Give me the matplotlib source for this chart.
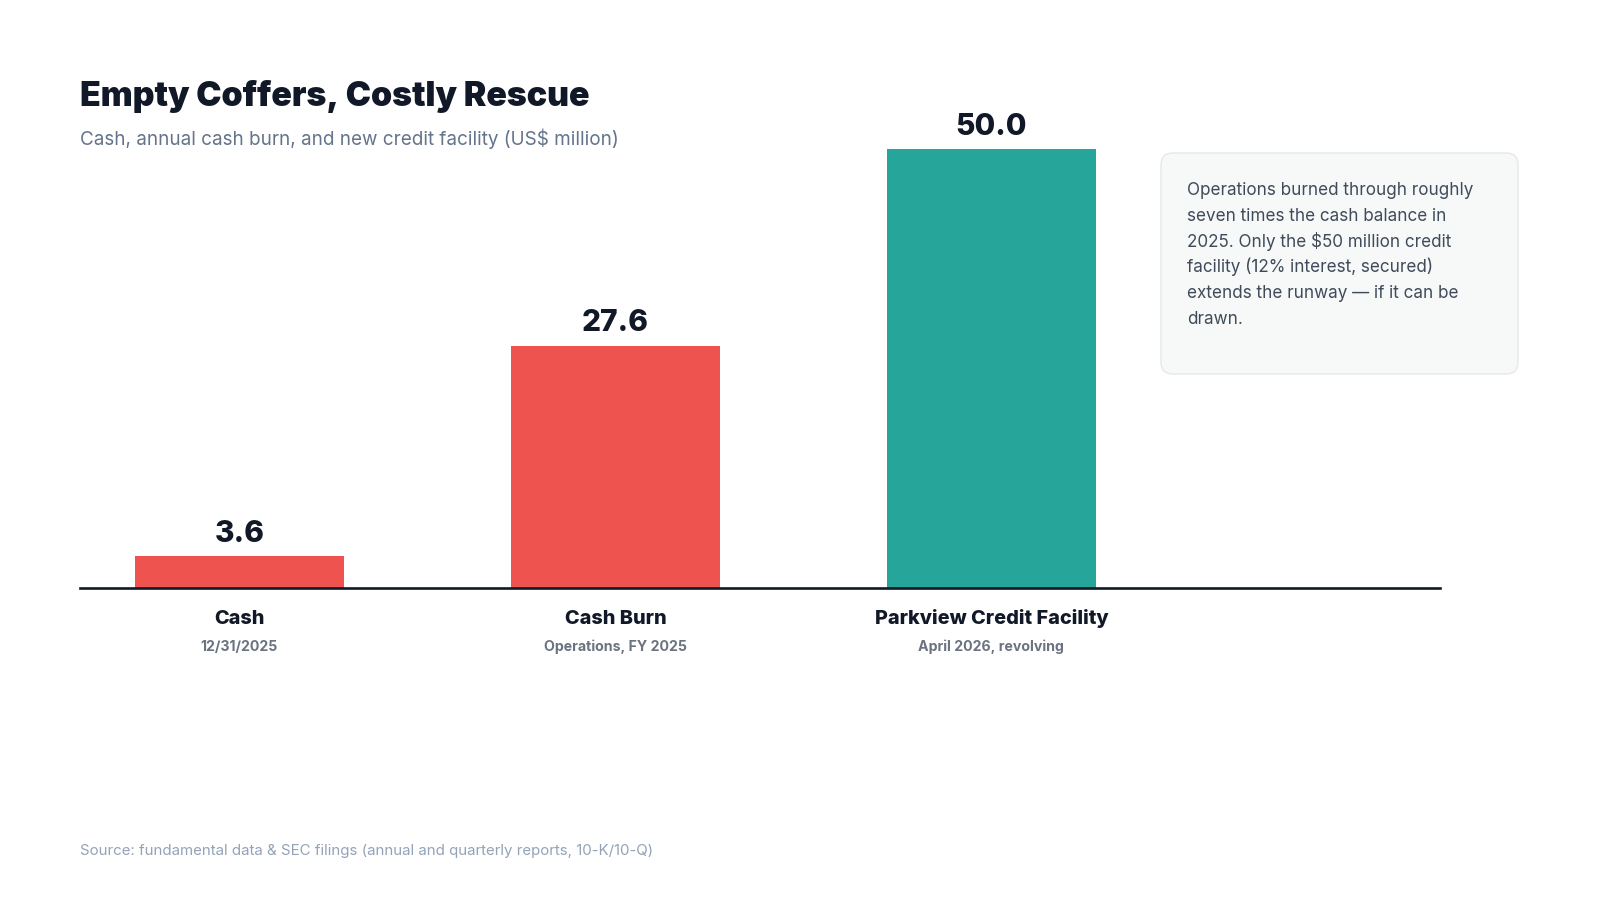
import matplotlib
matplotlib.use("Agg")
import matplotlib.pyplot as plt
from matplotlib.patches import FancyBboxPatch

plt.rcParams["font.family"] = ["Inter", "DejaVu Sans"]

# ---- data -------------------------------------------------------------
categories = ["Cash", "Cash Burn", "Parkview Credit Facility"]
sublabels = ["12/31/2025", "Operations, FY 2025", "April 2026, revolving"]
values = [3.6, 27.6, 50.0]
bar_colors = ["#ef5350", "#ef5350", "#26a69a"]

title = "Empty Coffers, Costly Rescue"
subtitle = "Cash, annual cash burn, and new credit facility (US\\$ million)"
note_lines = [
    "Operations burned through roughly",
    "seven times the cash balance in",
    "2025. Only the \\$50 million credit",
    "facility (12% interest, secured)",
    "extends the runway \u2014 if it can be",
    "drawn.",
]
source = "Source: fundamental data & SEC filings (annual and quarterly reports, 10-K/10-Q)"

DARK = "#111827"
W, H = 1600, 900


def fx(x):
    return x / W


def fy(y):
    return 1 - y / H


fig = plt.figure(figsize=(16, 9), dpi=100)
fig.patch.set_facecolor("white")

# main bar axes (pixel box 80..1440 wide, baseline at y=588)
ax = fig.add_axes([fx(80), fy(588), (1440 - 80) / W, (588 - 100) / H])
xs = list(range(len(values)))
ax.bar(xs, values, width=0.556, color=bar_colors, zorder=2)
ax.set_xlim(-0.424, 3.193)
ax.set_ylim(0, 55.6)
for s in ["top", "right", "left"]:
    ax.spines[s].set_visible(False)
ax.spines["bottom"].set_color(DARK)
ax.spines["bottom"].set_linewidth(1.9)
ax.set_yticks([])
ax.set_xticks([])

for x, v in zip(xs, values):
    ax.annotate(f"{v:.1f}", (x, v), xytext=(0, 10.5), textcoords="offset points",
                ha="center", va="baseline", fontsize=21.5, fontweight="heavy",
                color=DARK, clip_on=False)

for x, cat, sub in zip(xs, categories, sublabels):
    ax.annotate(cat, (x, 0), xytext=(0, -26), textcoords="offset points",
                ha="center", va="baseline", fontsize=14.3, fontweight="heavy",
                color=DARK, annotation_clip=False)
    ax.annotate(sub, (x, 0), xytext=(0, -45.5), textcoords="offset points",
                ha="center", va="baseline", fontsize=10.2, fontweight="bold",
                color="#6b7280", annotation_clip=False)

# overlay in pixel coordinates for the note box
ov = fig.add_axes([0, 0, 1, 1], facecolor="none")
ov.set_xlim(0, W)
ov.set_ylim(H, 0)
ov.axis("off")
box = FancyBboxPatch((1161, 153), 1518 - 1161, 374 - 153,
                     boxstyle="round,pad=0,rounding_size=12",
                     facecolor="#f7f8f8", edgecolor="#e5e7eb", linewidth=1.0)
ov.add_patch(box)
for i, line in enumerate(note_lines):
    ov.text(1187, 195 + 25.8 * i, line, fontsize=12.3, color="#3f4b5b",
            ha="left", va="baseline")

fig.text(fx(80), fy(106), title, fontsize=24.4, fontweight="black", color=DARK,
         ha="left", va="baseline")
fig.text(fx(80), fy(145), subtitle, fontsize=13.6, color="#64748b",
         ha="left", va="baseline")
fig.text(fx(80), fy(855), source, fontsize=10.85, color="#94a3b8",
         ha="left", va="baseline")

fig.savefig("out.png", dpi=100, facecolor="white")
